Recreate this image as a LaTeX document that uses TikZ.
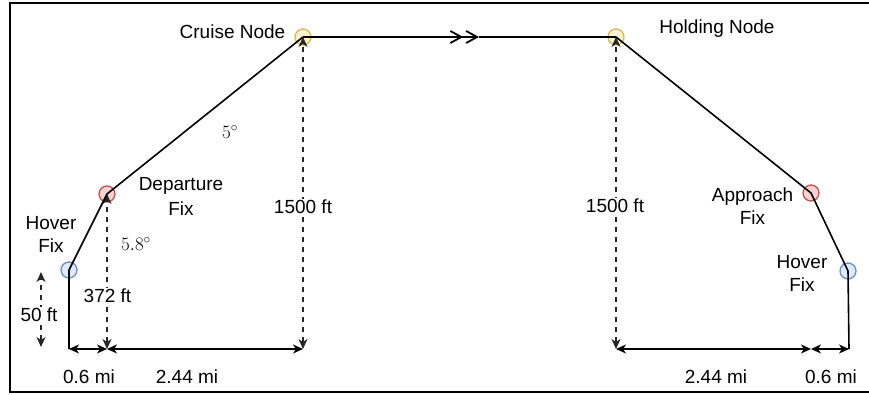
\RequirePackage{fix-cm}
\documentclass[tikz,border=0pt]{standalone}
\usepackage{fontspec}
\setmainfont{Liberation Sans}
\usetikzlibrary{arrows.meta}
\definecolor{bfill}{HTML}{DAE8FC}\definecolor{bline}{HTML}{6C8EBF}
\definecolor{rfill}{HTML}{F8CECC}\definecolor{rline}{HTML}{B85450}
\definecolor{yfill}{HTML}{FFF2CC}\definecolor{yline}{HTML}{D6B656}
\tikzset{
  fixpt/.style={circle,minimum size=16pt,inner sep=0pt,line width=1.3pt,fill opacity=0.9},
  hovfix/.style={fixpt,draw=bline,fill=bfill},
  depfix/.style={fixpt,draw=rline,fill=rfill},
  crufix/.style={fixpt,draw=yline,fill=yfill},
  route/.style={line width=1.6pt,line join=round},
  dimline/.style={line width=1.2pt,{Stealth[length=10pt,width=9pt,inset=3pt]}-{Stealth[length=10pt,width=9pt,inset=3pt]}},
  dashdim/.style={dimline,dash pattern=on 5pt off 5pt,draw=black!85},
  lbl/.style={font=\fontsize{19}{23}\selectfont,align=center,inner sep=1pt},
  wlbl/.style={lbl,fill=white},
}
\begin{document}
\begin{tikzpicture}[x=1pt,y=1pt]
\useasboundingbox (0,0) rectangle (869,394);
% frame
\draw[line width=2pt] (869,390.5) -- (9.5,390.5) -- (9.5,2) -- (869,2);
% ground coordinates
\coordinate (g1) at (69,45);
\coordinate (g2) at (107,45);
\coordinate (g3) at (303,45);
\coordinate (g4) at (616,45);
\coordinate (g5) at (811,45);
\coordinate (g6) at (849,45);
\coordinate (chev) at (479,357);
\coordinate (ft50t) at (41,122);
\coordinate (ft50b) at (41,47);
% fix nodes
\node[hovfix] (h1) at (69,124) {};
\node[depfix] (d1) at (107,200) {};
\node[crufix] (c1) at (303,357) {};
\node[crufix] (c2) at (616,357) {};
\node[depfix] (a1) at (811,201) {};
\node[hovfix] (h2) at (848,123) {};
% dashed verticals
\draw[dashdim] (g2) -- (d1.center);
\draw[dashdim] (g3) -- (c1.center);
\draw[dashdim] (g4) -- (c2.center);
\draw[dashdim] (ft50b) -- (ft50t);
% route
\draw[route] (g1) -- (h1.center) -- (d1.center) -- (c1.center);
\draw[route,-{Straight Barb[length=11pt,width=12pt,line width=1.8pt,sep=2pt]Straight Barb[length=11pt,width=12pt,line width=1.8pt]}] (c1.center) -- (chev);
\draw[route] (chev) -- (c2.center) -- (a1.center) -- (h2.center) -- (g6);
% bottom dimensions
\draw[dimline] (g1) -- (g2);
\draw[dimline] (g2) -- (g3);
\draw[dimline] (g4) -- (g5);
\draw[dimline] (g5) -- (g6);
% labels
\node[lbl] (lcru) at (232.5,362) {Cruise Node};
\node[lbl] (lhold) at (717,365) {Holding Node};
\node[lbl] (ldep) at (181,198) {Departure\\[2pt]Fix};
\node[lbl] (lhov1) at (51,159.5) {Hover\\Fix};
\node[lbl] (lapp) at (752.5,187.5) {Approach\\Fix};
\node[lbl] (lhov2) at (802,120.5) {Hover\\Fix};
\node[wlbl] (l372) at (107.5,98) {372 ft};
\node[wlbl] (l1500a) at (303,187) {1500 ft};
\node[wlbl] (l1500b) at (615,188) {1500 ft};
\node[wlbl] (l50) at (39,79) {50 ft};
\node[lbl] (l06a) at (89,17) {0.6 mi};
\node[lbl] (l244a) at (187,17) {2.44 mi};
\node[lbl] (l244b) at (716,17) {2.44 mi};
\node[lbl] (l06b) at (831,17) {0.6 mi};
\node[lbl] (ang1) at (136,150) {$5.8^\circ$};
\node[lbl] (ang2) at (230,262) {$5^\circ$};
\end{tikzpicture}
\end{document}
